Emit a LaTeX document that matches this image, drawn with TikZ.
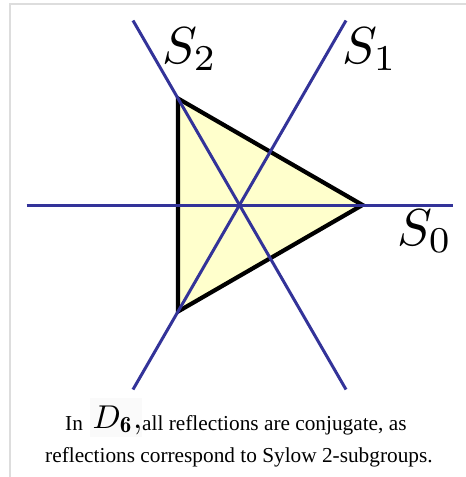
\documentclass[tikz,border=0pt]{standalone}
\usepackage{fontspec}
\newfontfamily\capfont{Liberation Serif}
\definecolor{axisblue}{RGB}{51,51,153}
\definecolor{triyellow}{RGB}{255,255,204}
\definecolor{framegray}{RGB}{221,221,221}
\tikzset{
  axisline/.style={draw=axisblue,line width=3pt},
  tri/.style={draw=black,fill=triyellow,line width=4.2pt,line join=miter},
  slabel/.style={anchor=base west,inner sep=0pt,font=\normalsize,scale=5.2},
  captext/.style={anchor=base west,inner sep=0pt,font=\capfont\fontsize{21.3}{26}\selectfont},
}
\begin{document}
\begin{tikzpicture}[x=1pt,y=-1pt]
\useasboundingbox (0,0) rectangle (466,477);
\fill[white] (0,0) rectangle (466,477);
% frame (top and left only)
\draw[framegray,line width=1.8pt] (10,477) -- (10,4) -- (466,4);
% geometry
\coordinate (O) at (239.5,205);
\coordinate (A) at (362.5,205);
\coordinate (B) at (178,98.5);
\coordinate (C) at (178,311.5);
\coordinate (H1) at (26.5,205);
\coordinate (H2) at (452.5,205);
\coordinate (P1) at (133,389.5);
\coordinate (P2) at (346,20.5);
\coordinate (Q1) at (133,20.5);
\coordinate (Q2) at (346,389.5);
\draw[tri] (A) -- (B) -- (C) -- cycle;
\draw[axisline] (H1) -- (H2);
\draw[axisline] (P1) -- (P2);
\draw[axisline] (Q1) -- (Q2);
% labels
\node[slabel] (s2) at (161,63) {$S_2$};
\node[slabel] (s1) at (341,63) {$S_1$};
\node[slabel] (s0) at (396,245) {$S_0$};
% caption
\node[captext] (in) at (65,430) {In};
\fill[black!2] (90,398) rectangle (142,437);
\node[anchor=base west,inner sep=0pt,font=\normalsize,scale=3.3] (d6) at (92,428) {$D_{\mathbf{6}}$\rlap{,}};
\node[captext] (l1) at (142,430) {all reflections are conjugate, as};
\node[captext] (l2) at (45,462) {reflections correspond to Sylow 2-subgroups.};
\end{tikzpicture}
\end{document}
